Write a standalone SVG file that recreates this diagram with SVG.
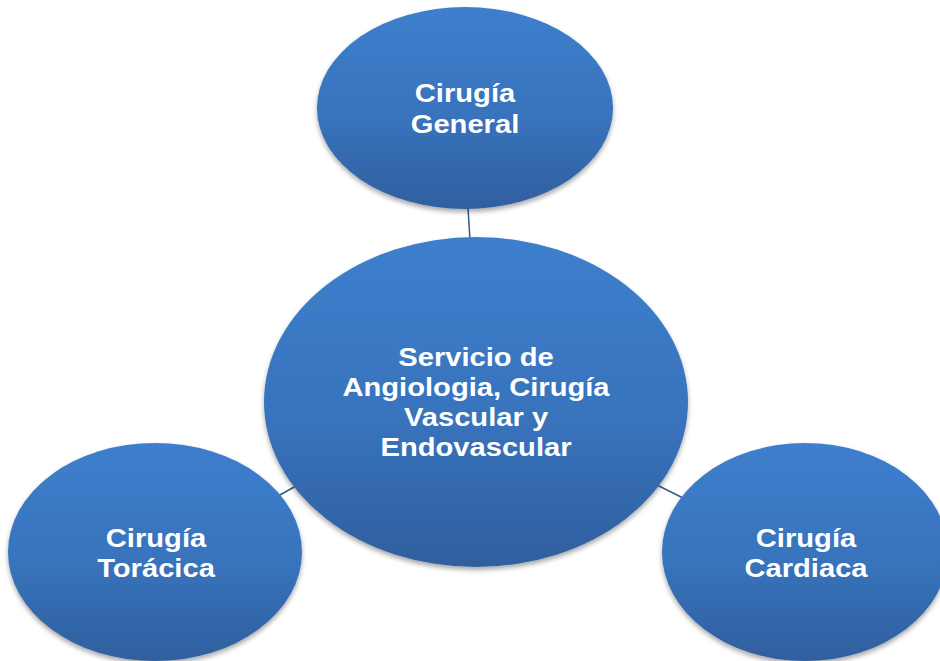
<svg xmlns="http://www.w3.org/2000/svg" width="940" height="661" viewBox="0 0 940 661">
<defs>
<linearGradient id="g" x1="0" y1="0" x2="0" y2="1">
<stop offset="0" stop-color="#3d7fcd"/>
<stop offset="0.55" stop-color="#3873bc"/>
<stop offset="1" stop-color="#2f5f9e"/>
</linearGradient>
<filter id="sh" x="-10%" y="-10%" width="120%" height="125%">
<feGaussianBlur in="SourceAlpha" stdDeviation="2.5"/>
<feOffset dx="0" dy="3" result="b"/>
<feComponentTransfer><feFuncA type="linear" slope="0.35"/></feComponentTransfer>
<feMerge><feMergeNode/><feMergeNode in="SourceGraphic"/></feMerge>
</filter>
</defs>
<style>
.n{fill:url(#g);filter:url(#sh)}
.t{font-family:"Liberation Sans",Arial,sans-serif;font-weight:bold;font-size:26.5px;fill:#fff;text-anchor:middle}
.c{stroke:#2f5a8c;stroke-width:1.5;fill:none}
</style>
<rect width="940" height="661" fill="#fff"/>
<g id="connectors">
<line class="c" x1="468" y1="208" x2="470" y2="240"/>
<line class="c" x1="278" y1="496" x2="296" y2="486"/>
<line class="c" x1="657" y1="485" x2="683" y2="498"/>
</g>
<g id="center">
<ellipse class="n" cx="476" cy="402" rx="212" ry="165"/>
<g transform="translate(476 0) scale(1.1 1)">
<text class="t" x="0" y="366">Servicio de</text>
<text class="t" x="0" y="396">Angiologia, Cirugía</text>
<text class="t" x="0" y="426">Vascular y</text>
<text class="t" x="0" y="456">Endovascular</text>
</g>
</g>
<g id="general">
<ellipse class="n" cx="465" cy="108" rx="148" ry="101"/>
<g transform="translate(465 0) scale(1.1 1)">
<text class="t" x="0" y="102">Cirugía</text>
<text class="t" x="0" y="133">General</text>
</g>
</g>
<g id="toracica">
<ellipse class="n" cx="155" cy="552" rx="147" ry="109"/>
<g transform="translate(156 0) scale(1.1 1)">
<text class="t" x="0" y="547">Cirugía</text>
<text class="t" x="0" y="577">Torácica</text>
</g>
</g>
<g id="cardiaca">
<ellipse class="n" cx="805" cy="552" rx="143" ry="109"/>
<g transform="translate(806 0) scale(1.1 1)">
<text class="t" x="0" y="547">Cirugía</text>
<text class="t" x="0" y="577">Cardiaca</text>
</g>
</g>
</svg>
